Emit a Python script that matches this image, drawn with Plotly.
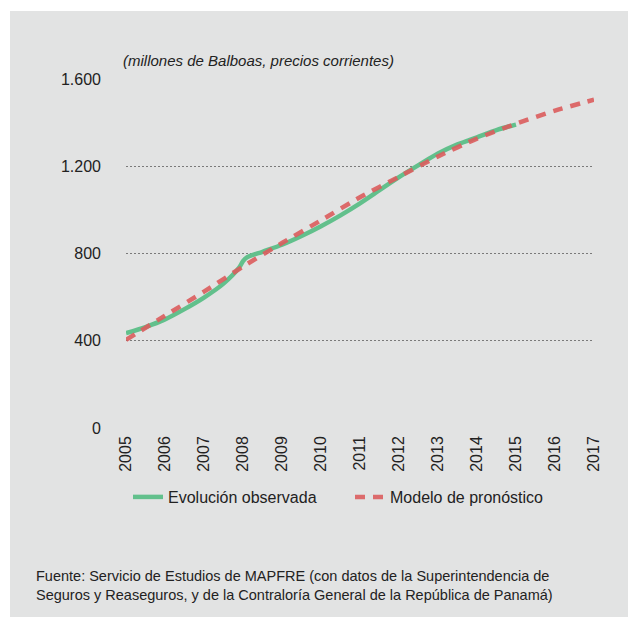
import plotly.graph_objects as go

# ---- data ----
obs_years = [2005, 2005.5, 2006, 2006.5, 2007, 2007.5, 2007.9, 2008.0, 2008.1, 2008.5,
             2009, 2009.5, 2010, 2010.5, 2011, 2011.5, 2012, 2012.5, 2013, 2013.5,
             2014, 2014.5, 2015]
obs_values = [435, 463, 498, 545, 598, 662, 735, 765, 782, 808,
              840, 880, 925, 975, 1030, 1090, 1150, 1205, 1258, 1300,
              1333, 1366, 1391]

model_years = [2005, 2006, 2007, 2008, 2009, 2010, 2011, 2012, 2013, 2014, 2015, 2016, 2017]
model_values = [404, 515, 625, 740, 848, 952, 1058, 1152, 1245, 1327, 1395, 1455, 1505]

x_ticks = list(range(2005, 2018))
x_tick_labels = [str(y) for y in x_ticks]
y_ticks = [0, 400, 800, 1200, 1600]
y_tick_labels = ["0", "400", "800", "1.200", "1.600"]

series_names = ["Evolución observada", "Modelo de pronóstico"]
subtitle = "(millones de Balboas, precios corrientes)"
source = ("Fuente: Servicio de Estudios de MAPFRE (con datos de la Superintendencia de<br>"
          "Seguros y Reaseguros, y de la Contraloría General de la República de Panamá)")

FONT = "Liberation Sans, Arial, sans-serif"
GREEN = "#62c08c"
RED = "#dc5d5e"
BG = "#e2e3e3"
TXT = "#222222"

W, H = 628, 617
L, R, T, B = 126, 34, 79, 189
pw = W - L - R
ph = H - T - B

def px_x(x):
    return (x - L) / pw

def px_y(y):
    return (H - B - y) / ph

fig = go.Figure()
fig.add_trace(go.Scatter(
    x=obs_years, y=obs_values, mode="lines", name=series_names[0],
    line=dict(color=GREEN, width=4.5, shape="spline", smoothing=0.8),
))
fig.add_trace(go.Scatter(
    x=model_years, y=model_values, mode="lines", name=series_names[1],
    line=dict(color=RED, width=4.5, dash="10px,8px", shape="spline", smoothing=0.6),
    opacity=0.9,
))

# white outer strips (left and top); the rest of the page is grey
fig.add_shape(type="rect", xref="paper", yref="paper",
              x0=px_x(-5), x1=px_x(10), y0=px_y(H + 5), y1=px_y(-5),
              fillcolor="white", line=dict(width=0), layer="below")
fig.add_shape(type="rect", xref="paper", yref="paper",
              x0=px_x(-5), x1=px_x(W + 5), y0=px_y(11), y1=px_y(-5),
              fillcolor="white", line=dict(width=0), layer="below")

fig.add_annotation(text="<i>" + subtitle + "</i>", xref="paper", yref="paper",
                   x=px_x(121), y=px_y(60), xanchor="left", yanchor="middle",
                   showarrow=False, font=dict(family=FONT, size=15, color=TXT))

fig.add_annotation(text=source, xref="paper", yref="paper",
                   x=px_x(34), y=px_y(566), xanchor="left", yanchor="top",
                   align="left", showarrow=False,
                   font=dict(family=FONT, size=14.5, color=TXT))

fig.update_layout(
    width=W, height=H, autosize=False,
    margin=dict(l=L, r=R, t=T, b=B),
    paper_bgcolor=BG, plot_bgcolor="rgba(0,0,0,0)",
    font=dict(family=FONT, color=TXT, size=16),
    showlegend=True,
    legend=dict(orientation="h", x=px_x(128), y=px_y(497), xanchor="left", yanchor="middle",
                font=dict(family=FONT, size=16, color=TXT),
                bgcolor="rgba(0,0,0,0)", entrywidth=177, entrywidthmode="pixels",
                traceorder="normal"),
    xaxis=dict(range=[2005, 2017], tickmode="array", tickvals=x_ticks, ticktext=x_tick_labels,
               tickangle=-90, showgrid=False, zeroline=False, showline=False, ticks="",
               ticklabelstandoff=4,
               tickfont=dict(family=FONT, size=16, color=TXT)),
    yaxis=dict(range=[0, 1600], tickmode="array", tickvals=y_ticks, ticktext=y_tick_labels,
               showgrid=True, gridcolor="#7a7a7a", gridwidth=1, griddash="2px,2px",
               zeroline=False, showline=False, ticks="", ticklabelstandoff=24,
               tickfont=dict(family=FONT, size=16, color=TXT)),
)

fig.write_html("out.html", config={"displayModeBar": False},
               post_script=("document.body.style.margin='0';"
                            "document.body.style.background='%s';"
                            "document.documentElement.style.background='%s';" % (BG, BG)))
